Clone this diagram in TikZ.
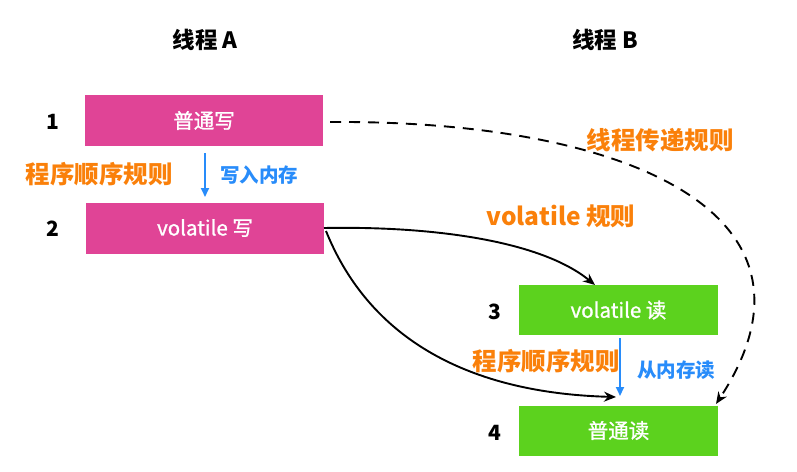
\documentclass[tikz,border=0pt]{standalone}
\usepackage{fontspec}
\setmainfont{Noto Sans CJK SC}
\newfontfamily\boxfont{Noto Sans CJK SC}[FakeBold=1.2]
\usetikzlibrary{arrows.meta}
\definecolor{pinkbox}{RGB}{224,68,150}
\definecolor{greenbox}{RGB}{92,210,30}
\definecolor{orangetxt}{RGB}{250,128,10}
\definecolor{bluetxt}{RGB}{40,140,250}
\begin{document}
\begin{tikzpicture}[x=1pt,y=-1pt,
  pbox/.style={fill=pinkbox,draw=none,minimum width=238pt,minimum height=51pt,inner sep=0pt,text=white,font=\boxfont\fontsize{20.5}{22}\selectfont},
  gbox/.style={fill=greenbox,draw=none,minimum width=199pt,minimum height=50pt,inner sep=0pt,text=white,font=\boxfont\fontsize{20.5}{22}\selectfont},
  num/.style={font=\bfseries\fontsize{21}{23}\selectfont,inner sep=0pt},
  title/.style={font=\bfseries\fontsize{22.5}{24}\selectfont,inner sep=0pt},
  rule/.style={text=orangetxt,font=\bfseries\fontsize{24.5}{26}\selectfont,inner sep=0pt},
  memlbl/.style={text=bluetxt,font=\bfseries\fontsize{19.5}{21}\selectfont,inner sep=0pt},
  memarrow/.style={draw=bluetxt,line width=1.9pt,-{Triangle[length=9pt,width=8pt]}},
  flow/.style={draw=black,line width=1.9pt,-{Stealth[length=12pt,width=10pt]}},
  flowdash/.style={flow,dash pattern=on 11pt off 8pt}
]
\useasboundingbox (0,0) rectangle (797,471);
\node[title] (ta) at (205,40) {线程 A};
\node[title] (tb) at (605,40) {线程 B};
\node[pbox] (b1) at (204,120.5) {普通写};
\node[pbox] (b2) at (205,228) {volatile 写};
\node[gbox] (b3) at (618.5,310) {volatile 读};
\node[gbox] (b4) at (618.5,430.5) {普通读};
\node[num] (n1) at (53,122) {1};
\node[num] (n2) at (53,229) {2};
\node[num] (n3) at (495,312) {3};
\node[num] (n4) at (495,433) {4};
\node[rule] (r1) at (99,174) {程序顺序规则};
\node[rule] (r2) at (546,361) {程序顺序规则};
\node[rule] (r3) at (660,140) {线程传递规则};
\node[rule] (r4) at (561,216) {volatile 规则};
\node[memlbl] (m1) at (259,175) {写入内存};
\node[memlbl] (m2) at (676,370) {从内存读};
\coordinate (a1s) at (205,153);
\coordinate (a1e) at (205,197);
\draw[memarrow] (a1s) -- (a1e);
\coordinate (a2s) at (620,338);
\coordinate (a2e) at (620,396);
\draw[memarrow] (a2s) -- (a2e);
\coordinate (c2) at (324,228);
\coordinate (c3) at (595,285);
\coordinate (c2b) at (326,231);
\coordinate (c4) at (616,397);
\coordinate (c1) at (330,122);
\coordinate (c4d) at (716,404);
\draw[flow] (c2) .. controls (430,226) and (540,240) .. (c3);
\draw[flow] (c2b) .. controls (370,340) and (470,393) .. (c4);
\draw[flowdash] (c1) .. controls (630,120) and (840,215) .. (c4d);
\end{tikzpicture}
\end{document}
